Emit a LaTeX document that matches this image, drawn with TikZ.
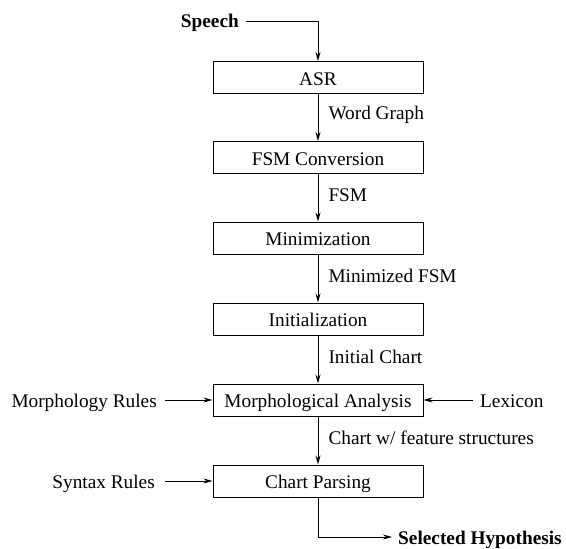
\documentclass[tikz,border=0pt]{standalone}
\usepackage{fontspec}
\setmainfont{Liberation Serif}
\usetikzlibrary{arrows.meta}
\begin{document}
\begin{tikzpicture}[x=1pt,y=-1pt,
  every node/.style={font=\fontsize{19.3}{23}\selectfont, inner sep=0pt},
  stage/.style={draw, line width=1pt, minimum width=210pt, minimum height=32pt, text height=16pt, text depth=1pt},
  lbl/.style={anchor=west},
  conn/.style={line width=1pt, -{Stealth[length=9pt,width=5pt]}}]
\useasboundingbox (0,0) rectangle (566,549);
\node[stage] (asr)  at (318,77.5)  {ASR};
\node[stage] (fsm)  at (318,157.5) {FSM Conversion};
\node[stage] (min)  at (318,238) {Minimization};
\node[stage] (init) at (318,319) {Initialization};
\node[stage] (morph) at (318,400) {Morphological Analysis};
\node[stage] (cp)   at (318,481) {Chart Parsing};

\node[anchor=east, font=\fontsize{19.3}{23}\selectfont\bfseries] (speech) at (239,23) {Speech};
\node[anchor=west, font=\fontsize{19.3}{23}\selectfont\bfseries] (sel) at (398,540) {Selected Hypothesis};
\node[anchor=base east] (mr) at (morph.base -| 157,0) {Morphology Rules};
\node[anchor=base east] (sr) at (cp.base -| 155,0) {Syntax Rules};
\node[anchor=base west] (lex) at (morph.base -| 480,0) {Lexicon};

\coordinate (sps) at (246,21);
\coordinate (mrs) at (165,400);
\coordinate (srs) at (165,481);
\coordinate (lexs) at (473,400);
\coordinate (selt) at (392,537);

\draw[conn] (sps) -| (asr.north);
\draw[conn] (asr) -- node[lbl, xshift=10pt, yshift=3pt] {Word Graph} (fsm);
\draw[conn] (fsm) -- node[lbl, xshift=10pt, yshift=3pt] {FSM} (min);
\draw[conn] (min) -- node[lbl, xshift=10pt, yshift=3pt] {Minimized FSM} (init);
\draw[conn] (init) -- node[lbl, xshift=10pt, yshift=3pt] {Initial Chart} (morph);
\draw[conn] (morph) -- node[lbl, xshift=10pt, yshift=3pt] {Chart w/ feature structures} (cp);
\draw[conn] (mrs) -- (morph.west);
\draw[conn] (srs) -- (cp.west);
\draw[conn] (lexs) -- (morph.east);
\draw[conn] (cp.south) |- (selt);
\end{tikzpicture}
\end{document}
